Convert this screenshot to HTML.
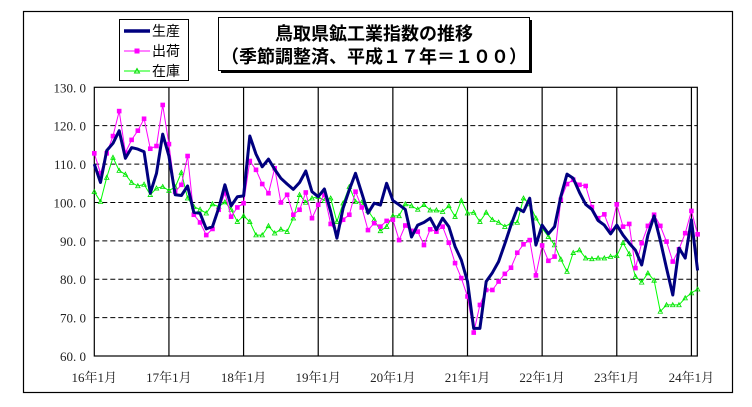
<!DOCTYPE html>
<html><head><meta charset="utf-8">
<style>
body{margin:0;background:#fff;width:752px;height:407px;overflow:hidden}
svg{display:block}
text{font-family:"Liberation Serif","Noto Serif CJK SC",serif}
.t{font-family:"Liberation Sans","Noto Sans CJK JP",sans-serif}
</style></head><body>
<svg id="chart" width="752" height="407" xmlns="http://www.w3.org/2000/svg">
<rect x="23.5" y="11.5" width="709" height="381" fill="#fff" stroke="#000" stroke-width="1.2"/>
<rect x="94.3" y="87.3" width="603" height="268.7" fill="#fff" stroke="#000" stroke-width="1.2"/>
<g id="grid"></g>
<g id="yaxis"></g>
<g id="xaxis"></g>
<g id="series"></g>
<g>
<rect x="119.5" y="19.5" width="69" height="61" fill="#fff" stroke="#000"/>
<g><line x1="124" y1="31" x2="150" y2="31" stroke="#00007f" stroke-width="3.5"/><text class="t" x="152" y="36" font-size="14">生産</text></g>
<g><line x1="124" y1="51" x2="150" y2="51" stroke="#ff00ff" stroke-width="1"/><rect x="134.5" y="48.5" width="5" height="5" fill="#ff00ff"/><text class="t" x="152" y="56" font-size="14">出荷</text></g>
<g><line x1="124" y1="71" x2="150" y2="71" stroke="#00ff00" stroke-width="1"/><path d="M137 68.5 L139.5 73 L134.5 73 Z" fill="none" stroke="#00dd00"/><text class="t" x="152" y="76" font-size="14">在庫</text></g>
</g>
<g>
<rect x="221" y="20" width="311" height="53" fill="#000"/>
<rect x="218.5" y="17.5" width="311" height="53" fill="#fff" stroke="#000"/>
<text class="t" x="374" y="40" font-size="18" font-weight="bold" text-anchor="middle">鳥取県鉱工業指数の推移</text>
<text class="t" x="374" y="63" font-size="18" font-weight="bold" text-anchor="middle">（季節調整済、平成１７年＝１００）</text>
</g>
</svg>
<script>
const yTicks=[60,70,80,90,100,110,120,130];
const yTickLabels=["60. 0","70. 0","80. 0","90. 0","100. 0","110. 0","120. 0","130. 0"];
const xTickIdx=[0,12,24,36,48,60,72,84,96];
const xTickLabels=["16年1月","17年1月","18年1月","19年1月","20年1月","21年1月","22年1月","23年1月","24年1月"];
const production=[110.0,105.2,113.5,115.4,118.7,111.5,114.3,113.9,113.2,102.4,107.6,117.8,112.1,102.0,101.8,104.3,97.4,97.2,93.1,93.7,98.5,104.6,99.1,101.5,101.7,117.3,112.6,109.3,111.3,108.6,106.3,104.8,103.4,105.2,108.2,102.8,101.5,103.5,97.6,90.7,98.5,103.3,107.6,102.4,97.2,99.8,99.3,105.0,100.5,99.4,98.2,91.0,94.1,94.8,95.9,92.9,95.9,93.7,88.5,85.0,79.4,67.2,67.2,79.4,81.7,84.6,89.2,94.1,98.5,97.6,101.1,88.9,94.1,91.8,93.7,101.5,107.4,106.3,102.6,99.5,98.2,95.3,94.1,91.8,94.1,91.5,89.4,87.6,83.7,91.5,96.5,90.1,82.9,75.9,88.1,85.5,95.5,82.3];
const shipments=[112.8,107.6,112.8,117.3,123.8,113.0,116.3,118.7,121.8,114.0,114.7,125.4,115.2,102.8,104.6,112.1,96.8,94.8,91.5,93.1,98.1,102.4,96.3,98.7,99.8,110.8,108.5,104.8,102.4,108.9,100.0,102.0,96.8,98.1,102.6,95.9,99.4,102.0,94.4,92.2,95.5,96.8,102.8,98.7,92.8,94.6,93.7,95.2,95.5,90.2,94.0,92.6,92.4,88.9,93.0,92.4,93.7,89.5,84.2,80.3,75.5,66.1,73.3,77.2,77.2,79.4,81.4,83.0,86.9,89.1,90.2,81.0,88.8,84.8,85.9,100.7,104.8,105.9,104.6,104.3,98.8,95.9,96.9,92.6,99.5,93.7,94.4,82.9,89.4,93.9,96.8,93.9,89.8,84.6,87.8,92.0,97.8,91.7];
const inventory=[102.8,100.2,106.5,111.7,108.3,107.3,105.2,104.3,104.7,102.0,103.7,104.1,103.1,104.0,107.8,101.1,98.9,98.2,97.2,99.6,98.9,100.1,98.2,95.0,96.5,95.0,91.5,91.5,93.9,92.0,93.0,92.4,95.9,102.0,100.0,101.1,101.5,100.5,101.1,95.0,99.8,104.1,100.2,100.0,97.9,95.5,92.6,93.7,96.5,96.5,99.6,99.1,98.2,99.4,98.0,98.0,97.6,99.1,96.3,100.5,97.2,97.4,95.0,97.4,95.5,94.8,93.7,94.6,94.8,101.1,99.6,95.9,93.3,91.1,88.9,85.2,82.0,86.9,87.6,85.5,85.3,85.5,85.5,85.9,86.1,89.5,86.6,80.7,79.2,81.6,79.7,71.6,73.3,73.3,73.3,75.1,76.4,77.4];

const NS="http://www.w3.org/2000/svg";
const X0=94.3,DX=6.22,Y0=356,YT=87.3,VMIN=60,VMAX=130;
function xs(i){return X0+i*DX;}
function ys(v){return Y0-(v-VMIN)/(VMAX-VMIN)*(Y0-YT);}
function mk(tag,attrs,parent){const e=document.createElementNS(NS,tag);for(const k in attrs)e.setAttribute(k,attrs[k]);parent.appendChild(e);return e;}
const grid=document.getElementById('grid'),ya=document.getElementById('yaxis'),xa=document.getElementById('xaxis'),sg=document.getElementById('series');
yTicks.forEach((v,k)=>{
  if(v>VMIN&&v<VMAX){const l=mk('line',{x1:X0,x2:697.3,y1:ys(v),y2:ys(v),stroke:'#000','stroke-dasharray':'5,3','stroke-width':1},grid);
  
  }
  const t=mk('text',{x:86,y:ys(v)+5,'font-size':13,'text-anchor':'end',fill:'#222'},ya);
  t.textContent=yTickLabels[k];
  
  
});
xTickIdx.forEach((i,k)=>{
  if(i>0){const l=mk('line',{x1:xs(i),x2:xs(i),y1:YT,y2:Y0,stroke:'#000','stroke-width':1.2},grid);
  
  }
  const t=mk('text',{x:xs(i),y:382,'font-size':13,'text-anchor':'middle',fill:'#222'},xa);
  t.textContent=xTickLabels[k];
  
  
});
function pts(a){return a.map((v,i)=>xs(i).toFixed(1)+','+ys(v).toFixed(1)).join(' ');}
const gi=mk('g',{},sg);


mk('polyline',{points:pts(inventory),fill:'none',stroke:'#00ff00','stroke-width':1},gi);
inventory.forEach((v,i)=>{const x=xs(i),y=ys(v);const p=mk('path',{d:`M${x} ${y-2.3} L${x+2.2} ${y+1.8} L${x-2.2} ${y+1.8} Z`,fill:'none',stroke:'#00dd00','stroke-width':0.8},gi);

});
const gs=mk('g',{},sg);


mk('polyline',{points:pts(shipments),fill:'none',stroke:'#ff00ff','stroke-width':1},gs);
shipments.forEach((v,i)=>{const r=mk('rect',{x:xs(i)-2.3,y:ys(v)-2.3,width:4.6,height:4.6,fill:'#ff00ff'},gs);

});
const gp=mk('g',{},sg);


mk('polyline',{points:pts(production),fill:'none',stroke:'#00007f','stroke-width':3,'stroke-linejoin':'round'},gp);
</script>
</body></html>
